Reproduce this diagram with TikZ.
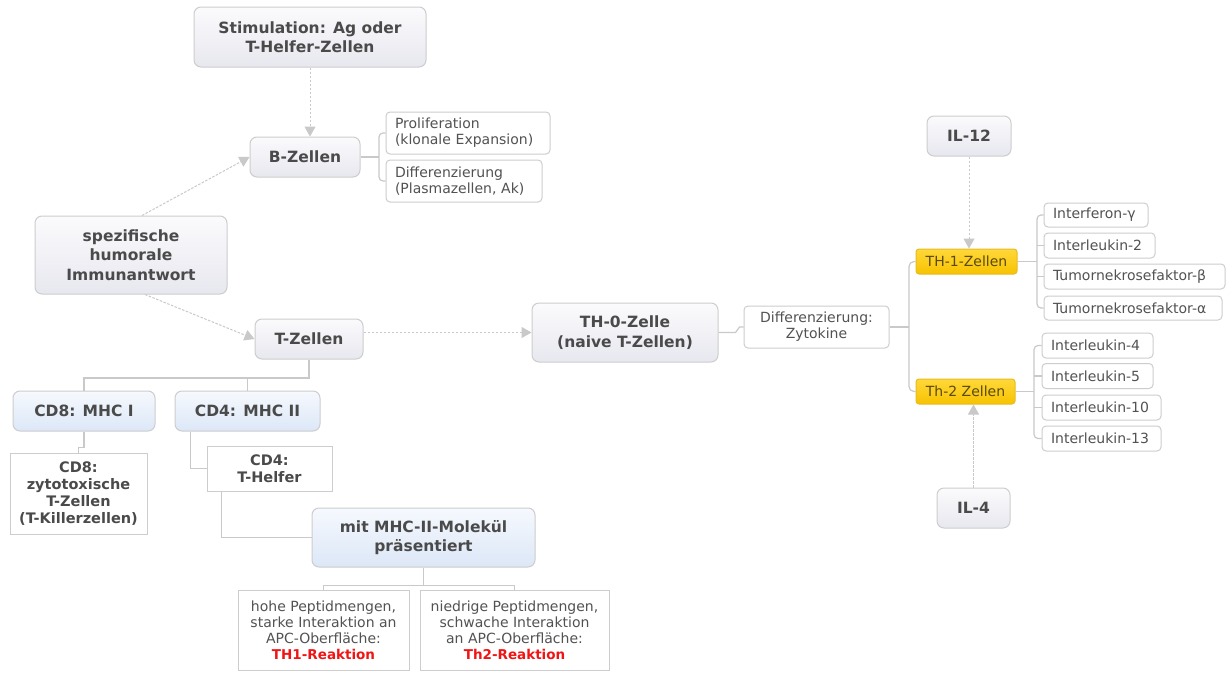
\documentclass[tikz,border=0pt]{standalone}
\usepackage{fontspec}
\setmainfont{DejaVu Sans}
\usetikzlibrary{arrows.meta,calc}
\definecolor{txt}{HTML}{4A4A4A}
\definecolor{ltxt}{HTML}{525252}
\definecolor{bordc}{HTML}{CDCDCD}
\definecolor{gtop}{HTML}{FBFBFD}
\definecolor{gbot}{HTML}{E7E7EF}
\definecolor{btop}{HTML}{F6F9FE}
\definecolor{bbot}{HTML}{DCE7F7}
\definecolor{ytop}{HTML}{FFD83A}
\definecolor{ybot}{HTML}{F7C200}
\definecolor{ybord}{HTML}{E8BC20}
\definecolor{ytxt}{HTML}{5A4A10}
\definecolor{connc}{HTML}{C9C9C9}
\definecolor{redtxt}{HTML}{F01515}
\begin{document}
\begin{tikzpicture}[x=1pt,y=-1pt,
  box/.style={draw=bordc, line width=1pt, text=txt, inner xsep=6pt, inner ysep=0pt, align=center},
  bigfont/.style={font=\fontsize{15.5}{19.5}\selectfont\bfseries},
  graybox/.style={box, rounded corners=7pt, top color=gtop, bottom color=gbot, bigfont},
  bluebox/.style={box, rounded corners=7pt, top color=btop, bottom color=bbot, bigfont},
  yellowbox/.style={box, rounded corners=3pt, draw=ybord, top color=ytop, bottom color=ybot, text=ytxt, font=\fontsize{14}{17}\selectfont},
  leaf/.style={box, rounded corners=4pt, fill=white, text=ltxt, inner xsep=9pt, font=\fontsize{14}{16}\selectfont, align=left},
  cleaf/.style={box, rounded corners=4pt, fill=white, text=ltxt, font=\fontsize{14}{16}\selectfont, align=center},
  sqbold/.style={box, fill=white, font=\fontsize{14.5}{17}\selectfont\bfseries},
  sqtext/.style={box, fill=white, text=ltxt, font=\fontsize{14}{16}\selectfont},
  conn/.style={draw=connc, line width=1.2pt},
  arr/.style={draw=connc, line width=1pt, dash pattern=on 2.5pt off 1.5pt,
    -{Triangle[length=10pt,width=11pt,fill=connc,sep=0pt]}},
]
\useasboundingbox[fill=white] (0,0) rectangle (1230,672);

% upper left
\node[graybox, minimum width=232, minimum height=60] (stim) at (310,37) {Stimulation: Ag oder\\T-Helfer-Zellen};
\node[graybox, minimum width=110, minimum height=40] (B) at (305,157) {B-Zellen};
\node[leaf, text width=146, minimum height=42] (prolif) at (468,133) {Proliferation\\(klonale Expansion)};
\node[leaf, text width=138, minimum height=42] (diffB) at (464,181) {Differenzierung\\(Plasmazellen, Ak)};
\node[graybox, minimum width=192, minimum height=78] (spez) at (131,255) {spezifische\\humorale\\Immunantwort};
\node[graybox, minimum width=108, minimum height=40] (T) at (309,339) {T-Zellen};

% lower left
\node[bluebox, minimum width=142, minimum height=40] (cd8) at (84,411) {CD8: MHC I};
\node[bluebox, minimum width=145, minimum height=40] (cd4) at (247.5,411) {CD4: MHC II};
\node[sqbold, minimum width=137, minimum height=81] (zyto) at (78.5,493.5) {CD8:\\zytotoxische\\T-Zellen\\(T-Killerzellen)};
\node[sqbold, minimum width=125, minimum height=45] (thelf) at (269.5,468.5) {CD4:\\T-Helfer};
\node[bluebox, minimum width=223, minimum height=59] (mhc) at (423.5,537.5) {mit MHC-II-Molekül\\präsentiert};
\node[sqtext, minimum width=171, minimum height=80] (hohe) at (323.5,630) {hohe Peptidmengen,\\starke Interaktion an\\APC-Oberfläche:\\{\fontsize{13.5}{16}\selectfont\bfseries\color{redtxt}TH1-Reaktion}};
\node[sqtext, minimum width=189, minimum height=80] (nied) at (514.5,630) {niedrige Peptidmengen,\\schwache Interaktion\\an APC-Oberfläche:\\{\fontsize{13.5}{16}\selectfont\bfseries\color{redtxt}Th2-Reaktion}};

% middle and right
\node[graybox, minimum width=186, minimum height=59] (th0) at (625,332.5) {TH-0-Zelle\\(naive T-Zellen)};
\node[cleaf, minimum width=145, minimum height=42] (diffZ) at (816.5,327) {Differenzierung:\\Zytokine};
\node[graybox, minimum width=84, minimum height=40] (il12) at (969,136) {IL-12};
\node[yellowbox, minimum width=101, minimum height=25] (th1) at (966.5,261.5) {TH-1-Zellen};
\node[yellowbox, minimum width=99, minimum height=25] (th2) at (965.5,391.5) {Th-2 Zellen};
\node[graybox, minimum width=73, minimum height=40] (il4) at (973.5,508) {IL-4};

\node[leaf, text width=86, minimum height=24] (ifn) at (1096,215) {Interferon-γ};
\node[leaf, text width=93, minimum height=25] (il2) at (1099.5,245.5) {Interleukin-2};
\node[leaf, text width=163, minimum height=25] (tnfb) at (1134.5,276.5) {Tumornekrosefaktor-β};
\node[leaf, text width=160, minimum height=24] (tnfa) at (1133,308) {Tumornekrosefaktor-α};

\node[leaf, text width=93, minimum height=25] (l4) at (1097.5,345.5) {Interleukin-4};
\node[leaf, text width=93, minimum height=25] (l5) at (1097.5,376) {Interleukin-5};
\node[leaf, text width=101, minimum height=25] (l10) at (1101.5,407.5) {Interleukin-10};
\node[leaf, text width=101, minimum height=25] (l13) at (1101.5,438.5) {Interleukin-13};

% dashed arrows
\draw[arr] (stim.south) -- (stim.south |- B.north);
\draw[arr] ($(spez.north)+(11,0)$) -- (B.west);
\draw[arr] ($(spez.south)+(14,0)$) -- (T.west);
\draw[arr] (T.east |- th0.west) -- (th0.west);
\draw[arr] (il12.south) -- (il12.south |- th1.north);
\draw[arr] (il4.north) -- (il4.north |- th2.south);

% B-Zellen bracket
\coordinate (bj) at (379,157);
\draw[conn] (B.east) -- (bj);
\draw[conn, rounded corners=4pt] (prolif.west) -| (bj) |- (diffB.west);

% T-Zellen tree
\coordinate (tj) at (309,378);
\draw[conn] (T.south) -- (tj) -| (cd8.north);
\draw[conn] (cd4.north) -- (cd4.north |- tj);
\draw[conn] (cd8.south) -- ++(0,16) -| (zyto.north);
\draw[conn] ($(cd4.south west)+(16,0)$) |- (thelf.west);
\draw[conn] ($(thelf.south west)+(15,0)$) |- (mhc.west);
\coordinate (mj) at ($(mhc.south)+(0,18)$);
\draw[conn] (mhc.south) -- (mj) -| (hohe.north);
\draw[conn] (mj) -| (nied.north);

% TH-0 to differentiation
\draw[conn] (th0.east) -- ++(17,0) -- ($(diffZ.west)+(-4,0)$) -- (diffZ.west);
\coordinate (dj) at (909,327);
\draw[conn] (diffZ.east) -- (dj);
\draw[conn, rounded corners=5pt] (th1.west) -| (dj) |- (th2.west);

% TH-1 leaves
\coordinate (t1j) at (1037,261.5);
\draw[conn] (th1.east) -- (t1j);
\draw[conn, rounded corners=4pt] (ifn.west) -| (t1j) |- (tnfa.west);
\draw[conn] (il2.west) -- (il2.west -| t1j);
\draw[conn] (tnfb.west) -- (tnfb.west -| t1j);

% Th-2 leaves
\coordinate (t2j) at (1034,391.5);
\draw[conn] (th2.east) -- (t2j);
\draw[conn, rounded corners=4pt] (l4.west) -| (t2j) |- (l13.west);
\draw[conn] (l5.west) -- (l5.west -| t2j);
\draw[conn] (l10.west) -- (l10.west -| t2j);
\end{tikzpicture}
\end{document}
